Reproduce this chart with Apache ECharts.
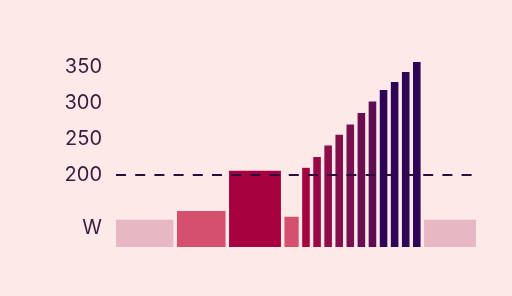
<!DOCTYPE html>
<html>
<head>
<meta charset="utf-8">
<script src="https://cdn.jsdelivr.net/npm/echarts@6/dist/echarts.min.js"></script>
<style>
  html, body { margin: 0; padding: 0; background: #fde9e8; }
  #chart { width: 512px; height: 296px; }
</style>
</head>
<body>
<div id="chart"></div>
<script>
// Workout segments: durations (minutes) and target power (W)
const durations = [5.5, 4.7, 5, 1.6, 1, 1, 1, 1, 1, 1, 1, 1, 1, 1, 1, 5];
const watts = [138, 150, 206, 142, 210, 225, 241, 256, 270, 286, 302, 318, 329, 343, 357, 138];
const thresholdWatts = 200;
const yTickLabels = [200, 250, 300, 350];
const unitLabel = 'W';

// build segment table [start, end, watts]
const segments = [];
let t = 0;
for (let i = 0; i < durations.length; i++) {
  segments.push([t, t + durations[i], watts[i]]);
  t += durations[i];
}
const totalTime = t;
const Y_MIN = 100, Y_MAX = 400;
const GAP = 3.5;

function zoneColor(w) {
  if (w < 140) return '#e8b7c4';
  if (w < 180) return '#d4506e';
  if (w <= 305) {
    const k = Math.max(0, Math.min(1, (w - 205) / (302 - 205)));
    return echarts.color.lerp(k, ['#a8023f', '#85104d', '#5e0d53']);
  }
  return '#2f0555';
}

const chart = echarts.init(document.getElementById('chart'), null, { renderer: 'canvas' });
chart.setOption({
  backgroundColor: '#fde9e8',
  animation: false,
  grid: { left: 116, right: 32.5, top: 31, bottom: 49 },
  xAxis: {
    type: 'value', min: 0, max: totalTime, show: false
  },
  yAxis: {
    type: 'value', min: Y_MIN, max: Y_MAX, interval: 50,
    axisLine: { show: false }, axisTick: { show: false }, splitLine: { show: false },
    axisLabel: {
      margin: 14,
      fontFamily: 'Inter', fontSize: 20, color: '#3d1b3f',
      formatter: v => (yTickLabels.indexOf(v) >= 0 ? String(v) : '')
    },
    name: unitLabel,
    nameLocation: 'start',
    nameGap: -19,
    nameTextStyle: {
      fontFamily: 'Inter', fontSize: 20, color: '#3d1b3f',
      align: 'right', verticalAlign: 'middle', padding: [0, 14, 0, 0]
    }
  },
  series: [
    {
      type: 'custom',
      data: segments,
      encode: { x: [0, 1], y: 2 },
      z: 2,
      renderItem: function (params, api) {
        const s = api.value(0), e = api.value(1), w = api.value(2);
        const p0 = api.coord([s, w]);
        const p1 = api.coord([e, Y_MIN]);
        return {
          type: 'rect',
          shape: { x: p0[0], y: p0[1], width: p1[0] - p0[0] - GAP, height: p1[1] - p0[1] },
          style: { fill: zoneColor(w) }
        };
      }
    },
    {
      type: 'line',
      data: [[0, thresholdWatts], [totalTime, thresholdWatts]],
      symbol: 'none',
      z: 5,
      silent: true,
      lineStyle: { color: '#2a0f3e', width: 1.8, type: [10, 9.2] }
    }
  ]
});
</script>
</body>
</html>
